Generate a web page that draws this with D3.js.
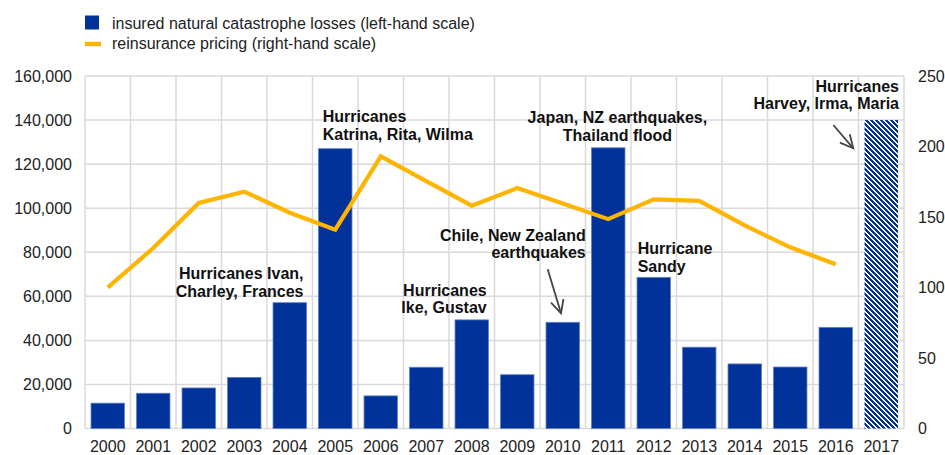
<!DOCTYPE html>
<html>
<head>
<meta charset="utf-8">
<script src="https://cdn.jsdelivr.net/npm/d3@7"></script>
<style>
  html, body { margin: 0; padding: 0; background: #fff; }
  svg { display: block; font-family: "Liberation Sans", Arial, sans-serif; }
</style>
</head>
<body>
<svg id="chart" width="945" height="455"></svg>
<script>
// ---- data ----
const years = ["2000","2001","2002","2003","2004","2005","2006","2007","2008","2009","2010","2011","2012","2013","2014","2015","2016","2017"];
const losses = [11500, 16000, 18400, 23200, 57100, 127000, 14800, 27800, 49300, 24400, 48200, 127400, 68600, 36900, 29300, 27900, 45900, 140000];
const pricingYears = ["2000","2001","2002","2003","2004","2005","2006","2007","2008","2009","2010","2011","2012","2013","2014","2015","2016"];
const pricing = [100, 128, 160, 168, 153, 141, 193, 175.5, 158, 170.5, 159.5, 148.5, 162.5, 161.5, 144, 128.5, 116.5];
const estimatedYear = "2017";
const leftTicks = [0, 20000, 40000, 60000, 80000, 100000, 120000, 140000, 160000];
const rightTicks = [0, 50, 100, 150, 200, 250];
const legendLabels = ["insured natural catastrophe losses (left-hand scale)", "reinsurance pricing (right-hand scale)"];
const annotations = [
  { lines: ["Hurricanes Ivan,", "Charley, Frances"], x: 303.5, y: 273.3, anchor: "end" },
  { lines: ["Hurricanes", "Katrina, Rita, Wilma"], x: 322.7, y: 116.7, anchor: "start" },
  { lines: ["Hurricanes", "Ike, Gustav"], x: 486.7, y: 290, anchor: "end" },
  { lines: ["Chile, New Zealand", "earthquakes"], x: 585.7, y: 235, anchor: "end" },
  { lines: ["Japan, NZ earthquakes,", "Thailand flood"], x: 617.4, y: 117.3, anchor: "middle" },
  { lines: ["Hurricane", "Sandy"], x: 637.7, y: 248.3, anchor: "start" },
  { lines: ["Hurricanes", "Harvey, Irma, Maria"], x: 899, y: 86, anchor: "end" }
];
const arrows = [
  { from: [547.7, 269.3], to: [561, 313.3] },
  { from: [833.3, 125], to: [853.3, 148.3] }
];

// ---- colours / layout ----
const BLUE = "#003299", ORANGE = "#ffb400", GRID = "#dadada", TEXT = "#222";
const plot = { left: 85, right: 904, top: 76, bottom: 428.5 };

const svg = d3.select("#chart");

const x = d3.scaleBand().domain(years).range([plot.left, plot.right]).paddingInner(0.265).paddingOuter(0.1325);
const yL = d3.scaleLinear().domain([0, 160000]).range([plot.bottom, plot.top]);
const yR = d3.scaleLinear().domain([0, 250]).range([plot.bottom, plot.top]);

// hatch pattern (pixel diagonal "\" stripes, 3 blue / 2 white per 5px)
const defs = svg.append("defs");
const T = 5;
const pat = defs.append("pattern").attr("id", "hatch").attr("patternUnits", "userSpaceOnUse")
  .attr("width", T).attr("height", T);
pat.append("rect").attr("width", T).attr("height", T).attr("fill", "#fff");
for (let i = 0; i < T; i++) {
  for (let k = 0; k < 3; k++) {
    pat.append("rect").attr("x", (i + k) % T).attr("y", i).attr("width", 1).attr("height", 1)
      .attr("fill", BLUE).attr("shape-rendering", "crispEdges");
  }
}

defs.append("marker").attr("id", "arrowhead").attr("viewBox", "0 0 16 16").attr("refX", 14).attr("refY", 8)
  .attr("markerWidth", 16).attr("markerHeight", 16).attr("markerUnits", "userSpaceOnUse").attr("orient", "auto")
  .append("path").attr("d", "M1,1.5 L14,8 L1,14.5").attr("fill", "none").attr("stroke", "#444").attr("stroke-width", 1.8);

// gridlines
const step = x.step();
const grid = svg.append("g");
grid.selectAll("line.h").data(leftTicks).join("line")
  .attr("x1", plot.left).attr("x2", plot.right)
  .attr("y1", d => yL(d)).attr("y2", d => yL(d))
  .attr("stroke", GRID).attr("stroke-width", 1.5);
grid.selectAll("line.v").data(d3.range(years.length + 1)).join("line")
  .attr("x1", i => plot.left + i * step).attr("x2", i => plot.left + i * step)
  .attr("y1", plot.top).attr("y2", plot.bottom)
  .attr("stroke", GRID).attr("stroke-width", 1.5);

// bars
svg.append("g").selectAll("rect").data(years.map((y, i) => ({ year: y, v: losses[i] }))).join("rect")
  .attr("x", d => x(d.year)).attr("width", x.bandwidth())
  .attr("y", d => yL(d.v)).attr("height", d => yL(0) - yL(d.v))
  .attr("fill", d => d.year === estimatedYear ? "url(#hatch)" : BLUE)
  .attr("stroke", d => d.year === estimatedYear ? "none" : "#5f7fc4").attr("stroke-width", 0.8);

// line
const line = d3.line().x((d, i) => x(pricingYears[i]) + x.bandwidth() / 2).y(d => yR(d));
svg.append("path").datum(pricing).attr("d", line)
  .attr("fill", "none").attr("stroke", ORANGE).attr("stroke-width", 4.2)
  .attr("stroke-linejoin", "miter").attr("stroke-linecap", "butt");

// axes
const fmt = d3.format(",");
const axL = svg.append("g").attr("transform", `translate(${plot.left},0)`)
  .call(d3.axisLeft(yL).tickValues(leftTicks).tickFormat(fmt).tickSize(0).tickPadding(13));
const axR = svg.append("g").attr("transform", `translate(${plot.right},0)`)
  .call(d3.axisRight(yR).tickValues(rightTicks).tickSize(0).tickPadding(14));
const axB = svg.append("g").attr("transform", `translate(0,${plot.bottom})`)
  .call(d3.axisBottom(x).tickSize(0).tickPadding(12));
[axL, axR, axB].forEach(a => {
  a.select(".domain").remove();
  a.selectAll("text").attr("font-size", "16px").attr("fill", TEXT)
    .attr("font-family", '"Liberation Sans", Arial, sans-serif');
});

// legend
const lg = svg.append("g");
lg.append("rect").attr("x", 85).attr("y", 15.5).attr("width", 14).attr("height", 14).attr("fill", BLUE);
lg.append("line").attr("x1", 85).attr("x2", 101).attr("y1", 44).attr("y2", 44).attr("stroke", ORANGE).attr("stroke-width", 4.5);
lg.selectAll("text").data(legendLabels).join("text")
  .attr("x", 112).attr("y", (d, i) => 23 + i * 20.5).attr("dy", "0.35em")
  .attr("font-size", "16px").attr("fill", TEXT).text(d => d);

// annotations
const an = svg.append("g");
annotations.forEach(a => {
  const t = an.append("text").attr("text-anchor", a.anchor).attr("font-size", "16px")
    .attr("font-weight", "bold").attr("fill", "#111");
  a.lines.forEach((l, i) => {
    t.append("tspan").attr("x", a.x).attr("y", a.y + i * 17.8).attr("dy", "0.35em").text(l);
  });
});
arrows.forEach(a => {
  an.append("line").attr("x1", a.from[0]).attr("y1", a.from[1]).attr("x2", a.to[0]).attr("y2", a.to[1])
    .attr("stroke", "#444").attr("stroke-width", 1.8).attr("marker-end", "url(#arrowhead)");
});
</script>
</body>
</html>
